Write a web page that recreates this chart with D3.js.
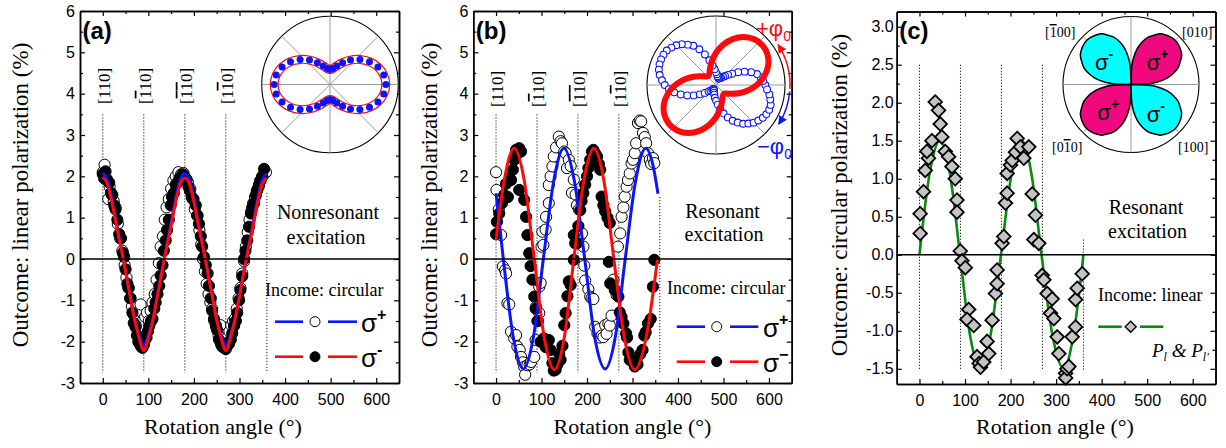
<!DOCTYPE html>
<html>
<head>
<meta charset="utf-8">
<script src="https://cdn.jsdelivr.net/npm/d3@7"></script>
<style>
  body { margin: 0; background: #fff; }
  svg { display: block; }
</style>
</head>
<body>
<svg id="fig" width="1226" height="448"></svg>
<script>
// ---------------- shared axis data ----------------
const xTickValues = [0, 100, 200, 300, 400, 500, 600];
const xMinorValues = [50, 150, 250, 350, 450, 550];
const abTickValues = [-3, -2, -1, 0, 1, 2, 3, 4, 5, 6];
const abMinorValues = [-2.5, -1.5, -0.5, 0.5, 1.5, 2.5, 3.5, 4.5, 5.5];
const cTickValues = [-1.5, -1.0, -0.5, 0.0, 0.5, 1.0, 1.5, 2.0, 2.5, 3.0];
const cMinorValues = [-1.25, -0.75, -0.25, 0.25, 0.75, 1.25, 1.75, 2.25, 2.75];
const axisAngles = [0, 90, 180, 270];
const axisNames = ["[110]", "[1\u030510]", "[1\u03051\u03050]", "[11\u03050]"];

// ---------------- panel (a): nonresonant excitation ----------------
const aSigmaPlus = [[0,2.1],[4,2.28],[8,1.95],[12,1.45],[15,1.75],[20,1.55],[24,1.4],[28,1.25],[33,0.85],[38,0.5],[43,0.2],[48,-0.15],[52,-0.45],[56,-0.7],[60,-0.95],[64,-1.15],[68,-1.35],[72,-1.6],[76,-1.85],[80,-1.25],[83,-1.1],[86,-1.95],[89,-2.05],[93,-1.4],[97,-1.3],[101,-1.5],[105,-1.25],[109,-1.05],[114,-0.85],[118,-0.5],[123,-0.1],[127,0.3],[132,0.55],[136,0.95],[140,1.25],[145,1.45],[150,1.7],[155,1.9],[160,2.0],[166,2.1],[172,2.05],[177,2.08],[182,1.95],[187,1.85],[192,1.7],[197,1.45],[202,1.2],[207,1.05],[212,0.7],[216,0.35],[220,0.0],[224,-0.3],[228,-0.6],[232,-0.85],[236,-1.05],[240,-1.2],[245,-1.5],[249,-1.65],[254,-1.85],[258,-1.6],[262,-2.0],[266,-2.05],[270,-2.1],[274,-1.9],[278,-1.75],[282,-1.6],[286,-1.5],[290,-1.45],[294,-1.2],[298,-0.95],[302,-0.7],[306,-0.35],[310,-0.05],[314,0.3],[318,0.65],[322,0.95],[326,1.15],[330,1.35],[334,1.5],[338,1.65],[342,1.75],[346,1.9],[350,2.0],[354,2.05],[358,2.1]];
const aSigmaMinus = [[0,2.05],[3,1.95],[6,2.12],[10,1.9],[14,1.85],[18,1.6],[21,1.55],[25,1.3],[28,1.2],[32,0.95],[36,0.6],[40,0.5],[44,0.15],[47,0.05],[50,-0.25],[54,-0.6],[57,-0.7],[61,-0.95],[65,-1.3],[68,-1.55],[72,-1.65],[75,-1.85],[78,-2.0],[81,-2.05],[84,-2.12],[87,-2.15],[90,-2.08],[93,-1.95],[96,-1.9],[99,-1.75],[102,-1.62],[106,-1.5],[109,-1.45],[113,-1.2],[116,-1.05],[120,-0.85],[124,-0.65],[127,-0.4],[131,-0.15],[134,0.2],[138,0.45],[141,0.7],[145,0.95],[149,1.3],[152,1.5],[156,1.6],[160,1.8],[164,1.85],[168,1.95],[172,2.0],[176,2.05],[180,1.98],[184,1.92],[188,1.75],[191,1.65],[195,1.5],[199,1.45],[204,1.3],[208,1.05],[211,0.85],[215,0.55],[218,0.3],[222,0.05],[226,-0.15],[230,-0.35],[233,-0.65],[237,-0.95],[240,-1.25],[244,-1.45],[248,-1.6],[251,-1.72],[255,-1.95],[259,-2.05],[262,-2.12],[266,-2.15],[270,-2.18],[273,-2.1],[277,-2.05],[281,-1.95],[284,-1.8],[288,-1.62],[292,-1.5],[295,-1.3],[299,-1.0],[302,-0.75],[306,-0.42],[310,0.0],[313,0.2],[317,0.45],[321,0.78],[325,1.1],[328,1.25],[332,1.35],[336,1.55],[339,1.67],[343,1.8],[346,1.9],[350,2.0],[354,2.18]];
const aFitPlus = [[0,2.08],[10,1.92],[20,1.47],[30,0.88],[40,0.32],[50,-0.27],[60,-0.86],[70,-1.45],[80,-1.84],[85,-2.02],[90,-2.1],[95,-2.02],[100,-1.84],[110,-1.45],[120,-0.86],[130,-0.27],[140,0.32],[150,0.88],[160,1.47],[170,1.92],[180,2.07],[190,1.92],[200,1.47],[210,0.88],[220,0.32],[230,-0.27],[240,-0.86],[250,-1.45],[260,-1.84],[265,-2.02],[270,-2.1],[275,-2.02],[280,-1.84],[290,-1.45],[300,-0.86],[310,-0.27],[320,0.32],[330,0.88],[340,1.47],[350,1.92],[360,2.06]];
const aFitMinus = [[0,1.98],[10,1.82],[20,1.38],[30,0.8],[40,0.27],[50,-0.3],[60,-0.9],[70,-1.48],[80,-1.92],[85,-2.12],[90,-2.22],[95,-2.12],[100,-1.92],[110,-1.48],[120,-0.9],[130,-0.3],[140,0.27],[150,0.8],[160,1.38],[170,1.82],[180,1.96],[190,1.82],[200,1.38],[210,0.8],[220,0.27],[230,-0.3],[240,-0.9],[250,-1.48],[260,-1.92],[265,-2.12],[270,-2.22],[275,-2.12],[280,-1.92],[290,-1.48],[300,-0.9],[310,-0.3],[320,0.27],[330,0.8],[340,1.38],[350,1.82],[360,1.96]];
// polar inset (a): outcome magnitude vs. azimuth
const aPolarAngles = [0,10,20,30,40,50,60,70,80,90,100,110,120,130,140,150,160,170,180,190,200,210,220,230,240,250,260,270,280,290,300,310,320,330,340,350];
const aPolarR = [55.8,54.6,51.0,45.6,39.0,31.9,25.2,19.8,16.2,15.0,16.2,19.8,25.2,31.9,39.0,45.6,51.0,54.6,55.8,54.6,51.0,45.6,39.0,31.9,25.2,19.8,16.2,15.0,16.2,19.8,25.2,31.9,39.0,45.6,51.0,54.6];

// ---------------- panel (b): resonant excitation ----------------
const bSigmaPlus = [[0,2.1],[1,1.67],[6,1.2],[11,0.58],[15,-0.18],[20,-0.27],[22,-0.35],[25,-1.07],[29,-1.1],[33,-1.76],[40,-1.92],[44,-1.84],[47,-2.12],[52,-2.2],[55,-2.37],[59,-2.5],[62,-2.61],[64,-2.8],[69,-2.57],[74,-2.55],[77,-2.49],[84,-2.37],[87,-1.96],[88,-1.16],[91,-1.5],[95,-1.31],[95,-0.67],[98,-0.58],[100,0.3],[102,0.66],[104,0.34],[109,0.71],[110,1.02],[116,1.35],[116,1.79],[120,2.0],[124,2.24],[127,2.48],[132,2.7],[138,2.96],[142,2.85],[145,2.8],[150,2.6],[153,2.56],[156,2.2],[160,2.4],[164,2.25],[167,1.6],[171,1.92],[175,1.56],[178,1.3],[182,1.2],[185,0.56],[189,0.62],[192,0.3],[194,-0.16],[196,-0.52],[203,-0.73],[207,-0.91],[210,-0.95],[214,-0.97],[218,-1.64],[223,-1.8],[226,-1.7],[228,-1.9],[233,-1.85],[236,-1.89],[240,-1.6],[243,-1.81],[247,-1.56],[250,-1.61],[254,-1.37],[258,-0.5],[265,-0.87],[268,0.3],[273,0.62],[276,1.02],[280,1.25],[283,1.51],[287,1.75],[290,1.91],[294,2.07],[298,2.31],[301,2.4],[305,2.56],[308,2.8],[312,3.29],[316,3.35],[319,3.33],[323,3.05],[327,2.95],[330,2.8],[334,2.56],[338,2.4],[341,2.3],[345,2.44],[348,2.32]];
const bSigmaMinus = [[0,0.6],[2,0.9],[7,1.1],[13,1.35],[18,1.55],[22,1.82],[26,1.5],[30,1.95],[33,1.91],[37,2.16],[40,2.4],[44,2.64],[47,2.55],[51,2.68],[55,2.6],[51,1.67],[62,1.43],[66,1.02],[69,0.58],[73,0.14],[76,-0.17],[80,-0.5],[84,-0.91],[87,-1.2],[92,-1.5],[98,-2.0],[105,-1.92],[109,-2.13],[116,-1.96],[120,-2.2],[124,-2.52],[127,-2.7],[131,-2.68],[135,-2.55],[139,-2.3],[142,-2.44],[146,-2.1],[150,-1.6],[153,-1.31],[157,-0.9],[160,-0.54],[164,-0.63],[171,0.58],[171,-0.02],[174,0.38],[178,0.38],[181,0.8],[185,1.18],[188,1.4],[192,1.59],[196,1.8],[200,2.0],[203,2.2],[207,2.4],[211,2.6],[214,2.64],[218,2.55],[222,2.48],[226,2.3],[229,2.16],[232,1.51],[236,1.3],[240,1.15],[245,1.0],[250,0.87],[248,-0.07],[251,-0.59],[261,-0.75],[269,-0.91],[272,-1.29],[276,-1.4],[280,-1.56],[286,-1.8],[288,-1.9],[291,-2.26],[294,-2.44],[298,-2.45],[305,-2.6],[309,-2.5],[311,-2.55],[317,-2.3],[322,-2.2],[326,-1.85],[329,-1.77],[334,-1.56],[340,-1.45],[345,-0.67],[348,-0.02]];
const bFitPlus = [[0,1.59],[16,0],[38,-1.9],[60,-2.66],[82,-1.9],[104,0],[127,1.9],[149,2.68],[172,1.9],[195,0],[217,-1.9],[240,-2.66],[262,-1.9],[284,0],[307,1.9],[329,2.68],[345,2.27],[356,1.58]];
const bFitMinus = [[0,0.46],[18,1.9],[40,2.68],[62,1.9],[84,0],[106,-1.9],[128,-2.68],[150,-1.9],[171,0],[193,1.9],[215,2.68],[237,1.9],[259,0],[282,-1.9],[305,-2.68],[330,-1.9],[355,0]];
// polar inset (b): sigma- (red band, 10 deg) and sigma+ (blue circles, 5 deg)
const bRedAngles = [0,10,20,30,40,50,60,70,80,90,100,110,120,130,140,150,160,170,180,190,200,210,220,230,240,250,260,270,280,290,300,310,320,330,340,350];
const bRedR = [41.3,49.5,56.2,60.5,62.0,60.5,56.2,49.5,41.3,32.7,24.5,17.9,13.5,12.0,13.5,17.9,24.5,32.7,41.3,49.5,56.2,60.5,62.0,60.5,56.2,49.5,41.3,32.7,24.5,17.9,13.5,12.0,13.5,17.9,24.5,32.7];
const bBlueAngles = [0,5,10,15,20,25,30,35,40,45,50,55,60,65,70,75,80,85,90,95,100,105,110,115,120,125,130,135,140,145,150,155,160,165,170,175,180,185,190,195,200,205,210,215,220,225,230,235,240,245,250,255,260,265,270,275,280,285,290,295,300,305,310,315,320,325,330,335,340,345,350,355];
const bBlueR = [50,48,46,43,38,32,26,20,16,13,11,9,8,7,7,8,9,11,13,16,20,26,33,40,46,50,54,57,59,61,61.5,61.5,61,60,58,55,52,48,43,37,31,25,19,14,10,8,6,5,5,5,6,8,10,13,16,20,25,30,35,40,44,48,51,54,56,58,59,59.5,59,57,55,52];

// ---------------- panel (c): linear income, circular outcome ----------------
const cPoints = [[1.5,0.28],[1.5,0.54],[8.8,0.83],[12.6,1.11],[19.8,1.27],[16.3,1.36],[27.3,1.5],[34.6,2.01],[41.9,1.9],[45.6,1.72],[49.2,1.55],[56.6,1.36],[63.9,1.29],[71.4,1.16],[78.6,1.0],[82.4,0.72],[82.4,0.56],[89.6,0.05],[93.3,-0.08],[100.7,-0.17],[108,-0.72],[104.4,-0.85],[119.1,-0.93],[126.4,-1.34],[131,-1.43],[134,-1.48],[141.1,-1.41],[152.1,-1.3],[148.5,-1.14],[159.5,-0.86],[166.8,-0.51],[170.5,-0.38],[170.5,-0.2],[181.5,0.15],[185.2,0.24],[188.8,0.68],[192.5,0.81],[192.5,1.07],[199.8,1.18],[203.5,1.24],[210.8,1.35],[214.5,1.53],[221.8,1.42],[229.1,1.27],[240.1,1.42],[247.5,0.8],[254.8,0.52],[251.1,0.2],[262.1,0.15],[269.4,-0.27],[273.1,-0.33],[280.4,-0.51],[287.8,-0.77],[291.4,-0.58],[295.1,-0.84],[302.4,-1.08],[306.1,-1.3],[320.8,-1.56],[321,-1.62],[324,-1.5],[328.1,-1.47],[335.4,-1.08],[342.8,-0.95],[342.8,-0.59],[346.4,-0.44],[357.4,-0.25]];
const cFit = [[0,0],[22,1.06],[45,1.5],[67,1.06],[89,0],[111,-1.06],[134,-1.5],[156,-1.06],[179,0],[202,1.06],[225,1.5],[246,1.06],[268,0],[292,-1.06],[317,-1.5],[338,-1.06],[360,0]];
// one petal of the polar inset (c), radius vs. angle within its quadrant
const cLobeAngles = [0,2.5,5,10,15,20,25,30,35,40,45,50,55,60,65,70,75,80,85,87.5,90];
const cLobeR = [0,0.27,0.38,0.54,0.65,0.74,0.8,0.86,0.89,0.91,0.92,0.91,0.89,0.86,0.8,0.74,0.65,0.54,0.38,0.27,0];
const cLobeLabels = ["\u03c3+", "\u03c3-", "\u03c3+", "\u03c3-"];
const cCrystalLabels = ["[010]", "[1\u030500]", "[01\u03050]", "[100]"];

// ---------------- drawing ----------------
const SERIF = '"Liberation Serif","Times New Roman",serif';
const SANS = '"Liberation Sans",Arial,sans-serif';
const BLUE = "#0a14ff", RED = "#ff0a0a", GREEN = "#0a8a0a";
const svg = d3.select("#fig");
const defs = svg.append("defs");

function arrowMarker(id, color) {
  defs.append("marker").attr("id", id)
    .attr("viewBox", "0 0 10 10").attr("refX", 9).attr("refY", 5)
    .attr("markerWidth", 9).attr("markerHeight", 9)
    .attr("markerUnits", "userSpaceOnUse").attr("orient", "auto")
    .append("path").attr("d", "M0,0 L10,5 L0,10 z").attr("fill", color);
}
arrowMarker("arrRed", RED);
arrowMarker("arrBlue", BLUE);

// text with overlined characters (combining U+0305)
function millerText(sel, str) {
  const chars = Array.from(str);
  for (let i = 0; i < chars.length; i++) {
    if (chars[i] === "\u0305") continue;
    const bar = chars[i + 1] === "\u0305";
    const t = sel.append("tspan").text(chars[i]);
    if (bar) t.attr("text-decoration", "overline").style("text-decoration", "overline");
  }
}

function makePanel(o) {
  const x = d3.scaleLinear().domain([-50, 650]).range([o.left, o.right]);
  const y = d3.scaleLinear().domain(o.yDomain).range([o.bottom, o.top]);
  const g = svg.append("g");
  return { x, y, g, o };
}

function drawAxes(P, yMajor, yMinor, yFmt, yPad) {
  const { x, y, g, o } = P;
  const style = sel => {
    sel.select(".domain").attr("stroke", "#000").attr("stroke-width", 1.5);
    sel.selectAll(".tick line").attr("stroke", "#000").attr("stroke-width", 1.2);
    sel.selectAll(".tick text").attr("font-family", SANS).attr("font-size", 16).attr("fill", "#000");
  };
  g.append("g").attr("transform", `translate(0,${o.bottom})`)
    .call(d3.axisBottom(x).tickValues(xTickValues).tickSize(-5).tickSizeOuter(0).tickPadding(10.5).tickFormat(d => String(d))).call(style);
  g.append("g").attr("transform", `translate(0,${o.bottom})`)
    .call(d3.axisBottom(x).tickValues(xMinorValues).tickSize(-3).tickSizeOuter(0).tickFormat("")).call(style);
  g.append("g").attr("transform", `translate(0,${o.top})`)
    .call(d3.axisTop(x).tickValues(xTickValues).tickSize(-5).tickSizeOuter(0).tickFormat("")).call(style);
  g.append("g").attr("transform", `translate(0,${o.top})`)
    .call(d3.axisTop(x).tickValues(xMinorValues).tickSize(-3).tickSizeOuter(0).tickFormat("")).call(style);
  g.append("g").attr("transform", `translate(${o.left},0)`)
    .call(d3.axisLeft(y).tickValues(yMajor).tickSize(-5).tickSizeOuter(0).tickPadding(yPad).tickFormat(yFmt)).call(style);
  g.append("g").attr("transform", `translate(${o.left},0)`)
    .call(d3.axisLeft(y).tickValues(yMinor).tickSize(-3).tickSizeOuter(0).tickFormat("")).call(style);
  g.append("g").attr("transform", `translate(${o.right},0)`)
    .call(d3.axisRight(y).tickValues(yMajor).tickSize(-5).tickSizeOuter(0).tickFormat("")).call(style);
  g.append("g").attr("transform", `translate(${o.right},0)`)
    .call(d3.axisRight(y).tickValues(yMinor).tickSize(-3).tickSizeOuter(0).tickFormat("")).call(style);
  // zero line
  g.append("line").attr("x1", o.left).attr("x2", o.right)
    .attr("y1", y(0)).attr("y2", y(0)).attr("stroke", "#000").attr("stroke-width", 1.4);
  // titles
  g.append("text").attr("transform", `translate(${o.yTitleX},195) rotate(-90)`)
    .attr("text-anchor", "middle").attr("font-family", SERIF).attr("font-size", 23)
    .text(o.yTitle);
  g.append("text").attr("x", o.xTitleX).attr("y", 434).attr("text-anchor", "middle")
    .attr("font-family", SERIF).attr("font-size", 22).text("Rotation angle (\u00b0)");
  g.append("text").attr("x", o.left + 2.5).attr("y", 39).attr("font-family", SANS)
    .attr("font-weight", "bold").attr("font-size", 24).text(o.tag);
}

function guideLines(P, top, bottom, lastTop, labelY) {
  const { x, y, g } = P;
  const angles = axisAngles.concat([360]);
  angles.forEach(a => {
    g.append("line").attr("x1", x(a)).attr("x2", x(a))
      .attr("y1", y(a === 360 ? lastTop : top)).attr("y2", y(bottom))
      .attr("stroke", "#000").attr("stroke-width", 0.9).attr("stroke-dasharray", "1.2,1.8");
  });
  if (labelY !== null) {
    axisAngles.forEach((a, i) => {
      const t = g.append("text")
        .attr("transform", `translate(${x(a) + 1},${labelY}) rotate(-90)`)
        .attr("text-anchor", "middle").attr("dy", "0.35em")
        .attr("font-family", SERIF).attr("font-size", 17);
      millerText(t, axisNames[i]);
    });
  }
}

function circles(P, data, r, fill) {
  P.g.append("g").selectAll("circle").data(data).join("circle")
    .attr("cx", d => P.x(d[0])).attr("cy", d => P.y(d[1])).attr("r", r)
    .attr("fill", fill).attr("stroke", "#000").attr("stroke-width", 1);
}

function fitLine(P, data, color, width) {
  const line = d3.line().x(d => P.x(d[0])).y(d => P.y(d[1])).curve(d3.curveMonotoneX);
  P.g.append("path").datum(data).attr("d", line).attr("fill", "none")
    .attr("stroke", color).attr("stroke-width", width).attr("stroke-linejoin", "round");
}

function sigmaLegend(g, x0, yRow, color, marker, sign, lines) {
  g.append("line").attr("x1", lines[0]).attr("x2", lines[1]).attr("y1", yRow).attr("y2", yRow)
    .attr("stroke", color).attr("stroke-width", 2.6);
  g.append("line").attr("x1", lines[3]).attr("x2", lines[4]).attr("y1", yRow).attr("y2", yRow)
    .attr("stroke", color).attr("stroke-width", 2.6);
  g.append("circle").attr("cx", lines[2]).attr("cy", yRow).attr("r", 5)
    .attr("fill", marker).attr("stroke", "#000").attr("stroke-width", 1);
  const t = g.append("text").attr("x", x0).attr("y", yRow + 10)
    .attr("font-family", SANS).attr("font-size", 26).text("\u03c3");
  t.append("tspan").attr("dy", -12).attr("font-size", 16).attr("font-weight", "bold").text(sign);
}

function centerText(g, x, y, str, size) {
  g.append("text").attr("x", x).attr("y", y).attr("text-anchor", "middle")
    .attr("font-family", SERIF).attr("font-size", size).text(str);
}

function polarFrame(g, cx, cy, R) {
  g.append("circle").attr("cx", cx).attr("cy", cy).attr("r", R)
    .attr("fill", "#fff").attr("stroke", "#000").attr("stroke-width", 1.1);
}
function polarSpokes(g, cx, cy, R, spokeAngles) {
  spokeAngles.forEach(a => {
    const t = a * Math.PI / 180;
    g.append("line").attr("x1", cx - R * Math.cos(t)).attr("y1", cy + R * Math.sin(t))
      .attr("x2", cx + R * Math.cos(t)).attr("y2", cy - R * Math.sin(t))
      .attr("stroke", "#9a9a9a").attr("stroke-width", 1);
  });
}
function radialLine(rScale) {
  return d3.lineRadial().angle(d => Math.PI / 2 - d[0] * Math.PI / 180).radius(d => rScale(d[1]));
}

// ===== panel (a) =====
const A = makePanel({ left: 80, right: 399, top: 11, bottom: 383, yDomain: [-3, 6],
  yTitle: "Outcome: linear polarization (%)", yTitleX: 27.5, xTitleX: 223, tag: "(a)" });
guideLines(A, 3.5, -2.75, 1.6, 86);
circles(A, aSigmaPlus, 5.6, "#fff");
circles(A, aSigmaMinus, 5.6, "#000");
fitLine(A, aFitPlus, BLUE, 3);
fitLine(A, aFitMinus, RED, 3);
drawAxes(A, abTickValues, abMinorValues, d => String(d), 5);
centerText(A.g, 328, 219, "Nonresonant", 20);
centerText(A.g, 326, 244, "excitation", 20);
A.g.append("text").attr("x", 265).attr("y", 296).attr("font-family", SERIF).attr("font-size", 18).text("Income: circular");
sigmaLegend(A.g, 361, 321.7, BLUE, "#fff", "+", [275, 303, 315, 328, 357]);
sigmaLegend(A.g, 361, 356.7, RED, "#000", "-", [275, 303, 315, 328, 357]);
{
  const cx = 330, cy = 84.5, R = 68.3;
  const rs = d3.scaleLinear().domain([0, 68.3]).range([0, R]);
  const gi = A.g.append("g");
  polarFrame(gi, cx, cy, R);
  polarSpokes(gi, cx, cy, R, [0, 45, 90, 135]);
  const pts = aPolarAngles.map((a, i) => [a, aPolarR[i]]);
  const lr = radialLine(rs).curve(d3.curveCatmullRomClosed);
  const gp = gi.append("g").attr("transform", `translate(${cx},${cy})`);
  gp.append("path").datum(pts).attr("d", lr).attr("fill", "none").attr("stroke", RED).attr("stroke-width", 9);
  gp.append("path").datum(pts).attr("d", lr).attr("fill", "none").attr("stroke", "#fff").attr("stroke-width", 6.6);
  gp.selectAll("circle.dot").data(pts).join("circle").attr("class", "dot")
    .attr("cx", d => rs(d[1]) * Math.cos(d[0] * Math.PI / 180))
    .attr("cy", d => -rs(d[1]) * Math.sin(d[0] * Math.PI / 180))
    .attr("r", 3.5).attr("fill", BLUE);
}

// ===== panel (b) =====
const B = makePanel({ left: 473.3, right: 791.7, top: 11, bottom: 383, yDomain: [-3, 6],
  yTitle: "Outcome: linear polarization (%)", yTitleX: 437, xTitleX: 632.5, tag: "(b)" });
guideLines(B, 3.5, -2.75, 1.5, 89);
circles(B, bSigmaPlus, 5.6, "#fff");
circles(B, bSigmaMinus, 5.6, "#000");
fitLine(B, bFitPlus, BLUE, 3);
fitLine(B, bFitMinus, RED, 3);
drawAxes(B, abTickValues, abMinorValues, d => String(d), 5);
centerText(B.g, 722.5, 218, "Resonant", 20);
centerText(B.g, 724, 241, "excitation", 20);
B.g.append("text").attr("x", 667).attr("y", 294).attr("font-family", SERIF).attr("font-size", 18).text("Income: circular");
sigmaLegend(B.g, 763, 326.7, BLUE, "#fff", "+", [676.7, 705, 716.7, 730, 758.3]);
sigmaLegend(B.g, 763, 361.7, RED, "#000", "\u2212", [676.7, 705, 716.7, 730, 758.3]);
{
  const cx = 716, cy = 85, R = 69;
  const rs = d3.scaleLinear().domain([0, 70]).range([0, R]);
  const gi = B.g.append("g");
  polarFrame(gi, cx, cy, R);
  polarSpokes(gi, cx, cy, R, [0, 45, 90, 135]);
  const gp = gi.append("g").attr("transform", `translate(${cx},${cy})`);
  const blue = bBlueAngles.map((a, i) => [a, bBlueR[i]]);
  gp.selectAll("circle.ob").data(blue).join("circle").attr("class", "ob")
    .attr("cx", d => rs(d[1]) * Math.cos(d[0] * Math.PI / 180))
    .attr("cy", d => -rs(d[1]) * Math.sin(d[0] * Math.PI / 180))
    .attr("r", 3.4).attr("fill", "#fff").attr("stroke", BLUE).attr("stroke-width", 1.1);
  const red = bRedAngles.map((a, i) => [a, bRedR[i]]);
  gp.append("path").datum(red).attr("d", radialLine(rs).curve(d3.curveCatmullRomClosed))
    .attr("fill", "none").attr("stroke", RED).attr("stroke-width", 6).attr("stroke-linejoin", "round");
  // rotation arrows
  const ra = 74, deg = Math.PI / 180;
  const pr = d3.path(); pr.arc(cx, cy, ra, 3 * deg, -33 * deg, true);
  gi.append("path").attr("d", pr.toString()).attr("fill", "none").attr("stroke", RED)
    .attr("stroke-width", 1.5).attr("marker-end", "url(#arrRed)");
  const pb = d3.path(); pb.arc(cx, cy, ra, 5 * deg, 32 * deg, false);
  gi.append("path").attr("d", pb.toString()).attr("fill", "none").attr("stroke", BLUE)
    .attr("stroke-width", 1.5).attr("marker-end", "url(#arrBlue)");
  const tp = gi.append("text").attr("x", 756).attr("y", 36).attr("font-family", SANS)
    .attr("font-size", 22).attr("fill", RED).text("+\u03c6");
  tp.append("tspan").attr("dy", 5).attr("font-size", 14).text("0");
  const tm = gi.append("text").attr("x", 757).attr("y", 154).attr("font-family", SANS)
    .attr("font-size", 22).attr("fill", BLUE).text("\u2212\u03c6");
  tm.append("tspan").attr("dy", 5).attr("font-size", 14).text("0");
}

// ===== panel (c) =====
const C = makePanel({ left: 896.7, right: 1215.5, top: 11.5, bottom: 384, yDomain: [-1.7, 3.2],
  yTitle: "Outcome: circular polarization (%)", yTitleX: 847, xTitleX: 1055, tag: "(c)" });
guideLines(C, 2.5, -1.52, 0.2, null);
fitLine(C, cFit, GREEN, 2.6);
C.g.append("g").selectAll("path").data(cPoints).join("path")
  .attr("transform", d => `translate(${C.x(d[0])},${C.y(d[1])})`)
  .attr("d", "M0,-6.8L6.8,0L0,6.8L-6.8,0Z")
  .attr("fill", "#c4c4c4").attr("stroke", "#000").attr("stroke-width", 1.8);
drawAxes(C, cTickValues, cMinorValues, d => d.toFixed(1), 3);
centerText(C.g, 1146, 214, "Resonant", 20);
centerText(C.g, 1147.5, 238, "excitation", 20);
C.g.append("text").attr("x", 1098).attr("y", 301).attr("font-family", SERIF).attr("font-size", 18).text("Income: linear");
C.g.append("line").attr("x1", 1098.3).attr("x2", 1121.7).attr("y1", 326.7).attr("y2", 326.7).attr("stroke", GREEN).attr("stroke-width", 2.6);
C.g.append("line").attr("x1", 1140).attr("x2", 1163.3).attr("y1", 326.7).attr("y2", 326.7).attr("stroke", GREEN).attr("stroke-width", 2.6);
C.g.append("path").attr("transform", "translate(1130.7,326.7)").attr("d", "M0,-5.5L5.5,0L0,5.5L-5.5,0Z")
  .attr("fill", "#c4c4c4").attr("stroke", "#000").attr("stroke-width", 1.4);
{
  const t = C.g.append("text").attr("x", 1152).attr("y", 357).attr("font-family", SERIF)
    .attr("font-style", "italic").attr("font-size", 19).text("P");
  t.append("tspan").attr("dy", 4).attr("font-size", 12).text("l");
  t.append("tspan").attr("dy", -4).text(" & P");
  t.append("tspan").attr("dy", 4).attr("font-size", 12).text("l'");
}
{
  const cx = 1131, cy = 84.5, R = 68;
  const rs = d3.scaleLinear().domain([0, 1]).range([0, R]);
  const gi = C.g.append("g");
  polarFrame(gi, cx, cy, R);
  polarSpokes(gi, cx, cy, R, [0, 90]);
  [45, 135, 225, 315].forEach(a => {
    const t = a * Math.PI / 180;
    gi.append("line").attr("x1", cx + (R - 6) * Math.cos(t)).attr("y1", cy - (R - 6) * Math.sin(t))
      .attr("x2", cx + R * Math.cos(t)).attr("y2", cy - R * Math.sin(t))
      .attr("stroke", "#9a9a9a").attr("stroke-width", 1);
  });
  const gp = gi.append("g").attr("transform", `translate(${cx},${cy})`);
  const lr = radialLine(rs).curve(d3.curveCatmullRom.alpha(0.5));
  const lobeColors = ["#f0087f", "#00ffff", "#f0087f", "#00ffff"];
  [0, 1, 2, 3].forEach(q => {
    const pts = cLobeAngles.map((a, i) => [q * 90 + a, cLobeR[i]]);
    gp.append("path").attr("d", lr(pts) + "Z").attr("fill", lobeColors[q])
      .attr("stroke", "#000").attr("stroke-width", 1.5).attr("stroke-linejoin", "round");
  });
  const labelPos = [[1146.7, 70], [1095, 70], [1097.3, 120], [1146.7, 121.7]];
  cLobeLabels.forEach((s, i) => {
    const t = gi.append("text").attr("x", labelPos[i][0]).attr("y", labelPos[i][1])
      .attr("font-family", SANS).attr("font-size", 22).text(s[0]);
    t.append("tspan").attr("dy", -11).attr("font-size", 14).attr("font-weight", "bold").text(s[1]);
  });
  const crystalPos = [[1182, 37], [1045, 37], [1052, 152], [1178, 152]];
  cCrystalLabels.forEach((s, i) => {
    const t = gi.append("text").attr("x", crystalPos[i][0]).attr("y", crystalPos[i][1])
      .attr("font-family", SERIF).attr("font-size", 14);
    millerText(t, s);
  });
}
</script>
</body>
</html>
